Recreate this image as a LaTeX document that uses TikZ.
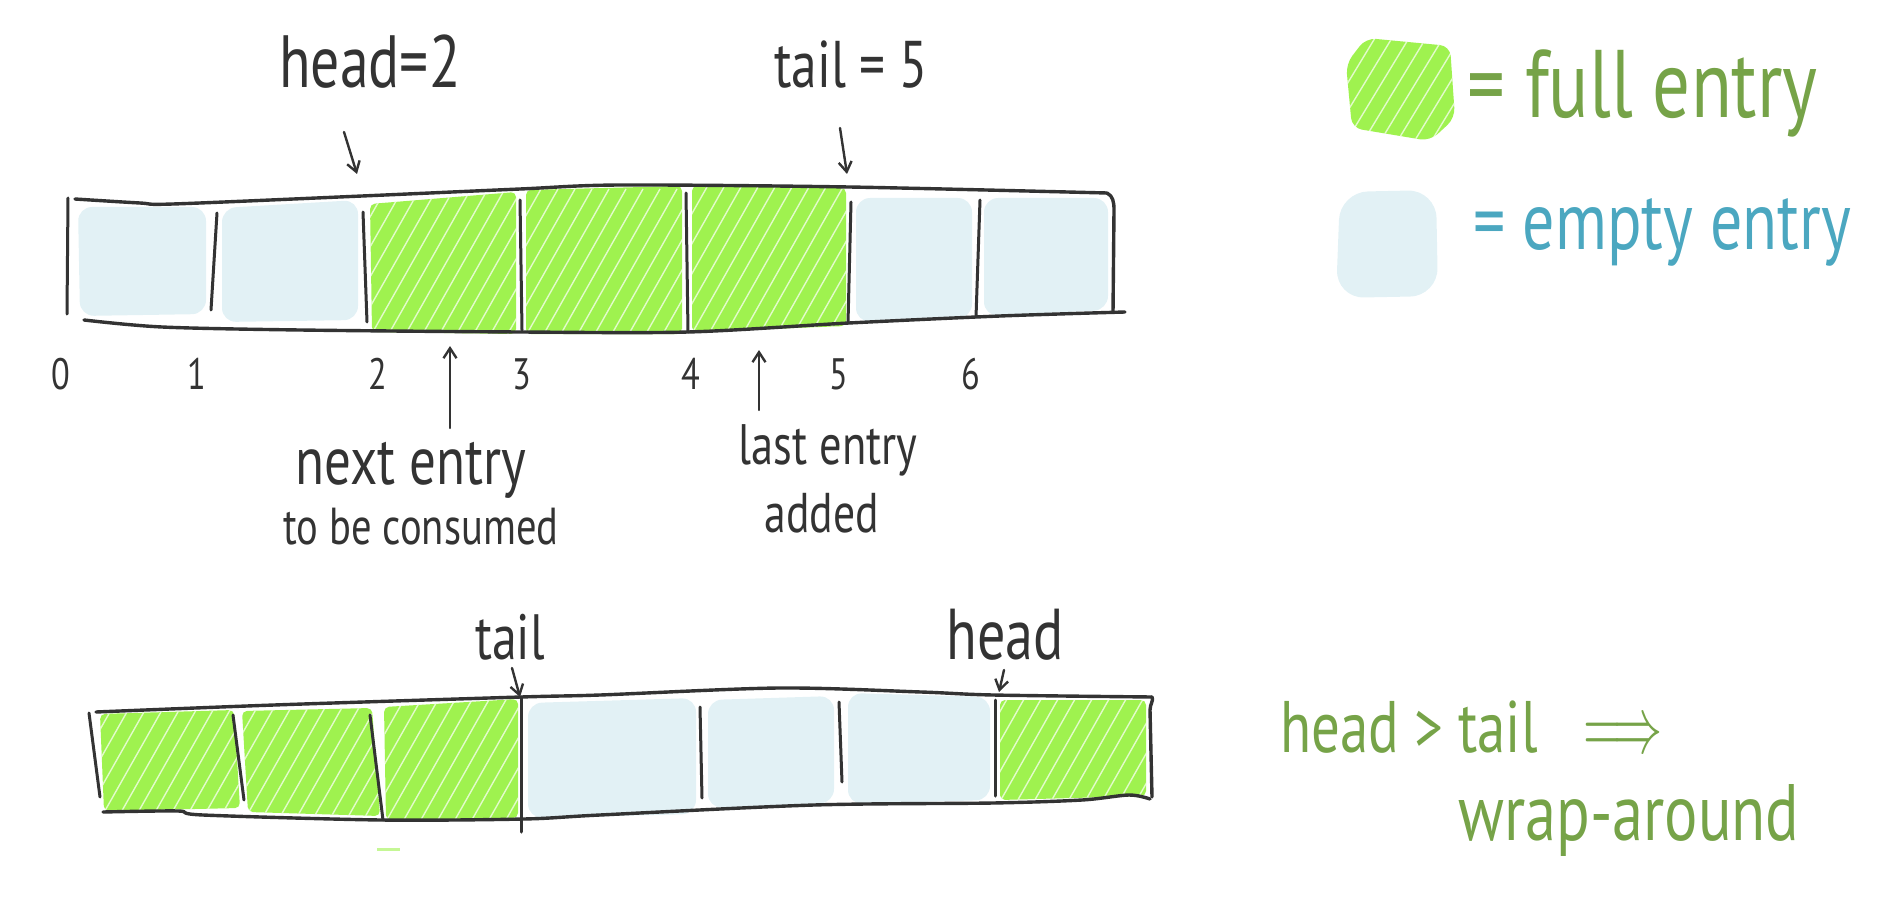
\documentclass[tikz,border=0pt]{standalone}
\usepackage{fontspec}
\newfontfamily\hand{PT Sans}[FakeStretch=0.78]
\usetikzlibrary{arrows.meta}
\definecolor{ink}{HTML}{333333}
\definecolor{fullg}{HTML}{9FF24F}
\definecolor{emptyb}{HTML}{E2F1F5}
\definecolor{gtext}{HTML}{76A348}
\definecolor{btext}{HTML}{4BA7C0}
\newcommand\handsz[1]{\hand\fontsize{#1}{#1}\selectfont}
\newcommand\fullcell[8]{%
  \begin{scope}
    \fill[fullg, rounded corners=5pt] (#1,#2) -- (#3,#4) -- (#5,#6) -- (#7,#8) -- cycle;
    \clip (#1,#2) -- (#3,#4) -- (#5,#6) -- (#7,#8) -- cycle;
    \foreach \k in {0,...,13} \draw[streak] ({#7-70+\k*17}, {#8+5}) -- ++(85,-150);
  \end{scope}}
\newcommand\emptycell[8]{%
  \fill[emptyb, rounded corners=14pt] (#1,#2) -- (#3,#4) -- (#5,#6) -- (#7,#8) -- cycle;}
\tikzset{
  border/.style={ink, line width=3.4pt, line cap=round, line join=round},
  divider/.style={ink, line width=3pt, line cap=round},
  ptr/.style={ink, line width=2.4pt, line cap=round, -{Straight Barb[length=10pt,width=13pt]}},
  lbl/.style={ink, inner sep=0pt, anchor=base},
  streak/.style={white, line width=1.4pt, opacity=0.7},
}
\begin{document}
\begin{tikzpicture}[x=1pt,y=-1pt]
\path[use as bounding box] (0,0) rectangle (1890,920);

% ---------- top array fills ----------
\emptycell{78}{207}{206}{207}{206}{314}{80}{316}
\emptycell{222}{208}{358}{200}{358}{320}{222}{322}
\fullcell{370}{204}{516}{192}{516}{334}{372}{332}
\fullcell{526}{190}{682}{186}{682}{334}{526}{334}
\fullcell{692}{186}{846}{188}{846}{326}{692}{332}
\emptycell{856}{198}{972}{198}{972}{318}{856}{322}
\emptycell{984}{198}{1108}{198}{1108}{310}{984}{316}

% ---------- top array borders ----------
\draw[border] plot[smooth] coordinates {(75,199) (140,203) (173,204) (362,196) (520,189) (620,185) (849,187) (1107,193)};
\draw[border] plot[smooth] coordinates {(84,320) (162,327) (300,330) (520,332) (688,332) (849,323) (1000,316) (1125,312)};
\draw[border] (1107,193) .. controls (1113,196) and (1114,202) .. (1114,210) -- (1113,312);
\draw[divider] (68,198) -- (67,314);
\draw[divider] (217,213) -- (211,310);
\draw[divider] (363,212) -- (367,322);
\draw[divider] (520,200) -- (522,330);
\draw[divider] (686,193) -- (688,332);
\draw[divider] (851,202) -- (848,323);
\draw[divider] (980,200) -- (976,317);

% ---------- top labels ----------
\node[lbl, font=\handsz{74}] (headlbl) at (370,88) {head=2};
\node[lbl, font=\handsz{66}] (taillbl) at (851,88) {tail = 5};
\coordinate (hs) at (344,132); \coordinate (ht) at (357,174);
\coordinate (ts) at (840,128); \coordinate (tt) at (847,174);
\draw[ptr] (hs) -- (ht);
\draw[ptr] (ts) -- (tt);

\foreach \i/\x in {0/61,1/197,2/378,3/522,4/691,5/839,6/971}
  \node[lbl, font=\handsz{44}] (idx\i) at (\x,389) {\i};

\coordinate (ns) at (450,428); \coordinate (nt) at (450,346);
\coordinate (ls) at (759,410); \coordinate (lt) at (759,350);
\draw[ptr] (ns) -- (nt);
\draw[ptr] (ls) -- (lt);
\node[lbl, font=\handsz{68}] (nextA) at (411,484) {next entry};
\node[lbl, font=\handsz{52}] (nextB) at (421,544) {to be consumed};
\node[lbl, font=\handsz{57}] (lastA) at (828,464) {last entry};
\node[lbl, font=\handsz{56}] (lastB) at (822,532) {added};

% ---------- bottom array fills ----------
\fullcell{100}{714}{234}{710}{240}{808}{104}{811}
\fullcell{242}{711}{372}{708}{380}{816}{248}{812}
\fullcell{384}{707}{518}{699}{518}{818}{386}{820}
\emptycell{528}{703}{696}{698}{696}{814}{528}{818}
\emptycell{708}{700}{834}{696}{834}{803}{708}{808}
\emptycell{848}{693}{990}{697}{990}{800}{848}{804}
\fullcell{1000}{700}{1146}{700}{1146}{796}{1000}{800}
\draw[fullg, line width=3pt, opacity=0.6] (377,849) -- (400,849);

% ---------- bottom array borders ----------
\draw[border] plot[smooth] coordinates {(96,712) (274,705) (521,697) (600,695) (779,688) (921,692) (993,695) (1152,697)};
\draw[border] plot[smooth] coordinates {(103,812) (178,811) (203,815) (381,820) (524,819) (600,815) (814,805) (993,803) (1082,800) (1129,795) (1150,799)};
\draw[border] (1152,697) .. controls (1154,700) and (1150,704) .. (1150,710) -- (1152,797);
\draw[divider] (89,713) -- (100,797);
\draw[divider] (233,715) -- (244,800);
\draw[divider] (370,715) -- (383,820);
\draw[divider] (521,697) -- (521,832);
\draw[divider] (700,707) -- (702,798);
\draw[divider] (839,702) -- (842,782);
\draw[divider] (995,700) -- (995,796);

\node[lbl, font=\handsz{64}] (tail2) at (510,659) {tail};
\node[lbl, font=\handsz{72}] (head2) at (1005,659) {head};
\coordinate (t2s) at (512,668); \coordinate (t2t) at (520,697);
\coordinate (h2s) at (1004,670); \coordinate (h2t) at (999,692);
\draw[ptr] (t2s) -- (t2t);
\draw[ptr] (h2s) -- (h2t);

% ---------- legend ----------
\begin{scope}
  \fill[fullg, rounded corners=10pt] (1366,38) -- (1450,46) -- (1455,118) -- (1430,141) -- (1352,128) -- (1346,64) -- cycle;
  \clip (1366,38) -- (1450,46) -- (1455,118) -- (1430,141) -- (1352,128) -- (1346,64) -- cycle;
  \foreach \k in {0,...,10} \draw[streak] ({1290+\k*17}, 150) -- ++(85,-140);
\end{scope}
\fill[emptyb, rounded corners=28pt] (1340,192) -- (1436,190) -- (1438,296) -- (1336,298) -- cycle;
\node[lbl, anchor=base west, font=\handsz{96}, text=gtext] (fulllbl) at (1467,118) {= full entry};
\node[lbl, anchor=base west, font=\handsz{82}, text=btext] (emptylbl) at (1473,250) {= empty entry};

\node[lbl, anchor=base west, font=\handsz{73}, text=gtext] (cond) at (1280,752) {head > tail\hspace{46pt}{\fontsize{10}{10}\selectfont\scalebox{4.9}[8]{$\Longrightarrow$}}};
\node[lbl, anchor=base west, font=\handsz{80}, text=gtext] (wrap) at (1458,840) {wrap-around};
\end{tikzpicture}
\end{document}
